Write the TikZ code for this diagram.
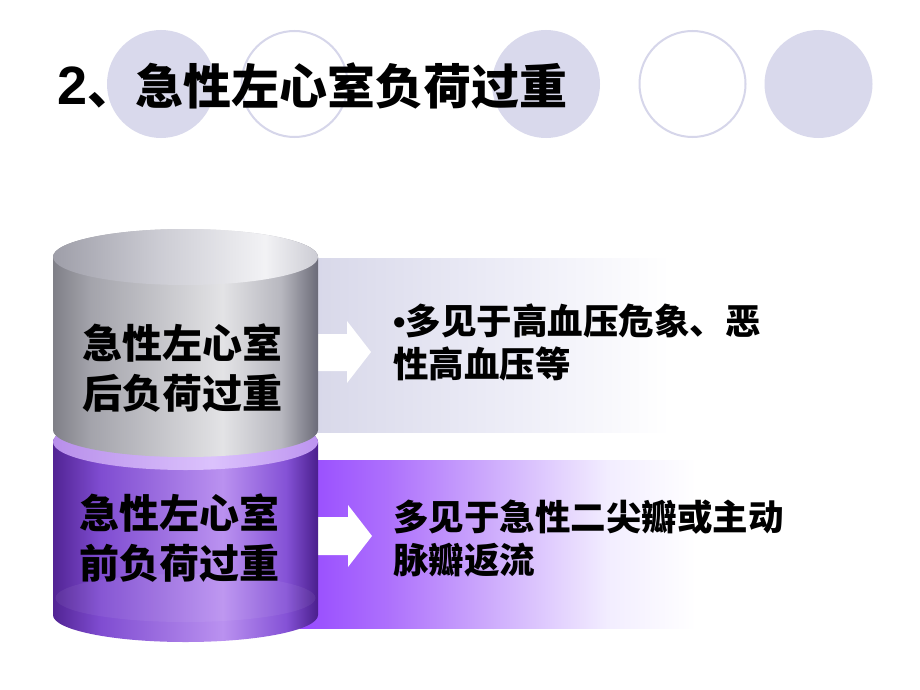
\documentclass[tikz,border=0pt]{standalone}
\usepackage{fontspec}
\newfontfamily\cjk{Noto Sans CJK SC}
\newfontfamily\lat{Liberation Sans}
\usetikzlibrary{shadings}
\definecolor{circfill}{RGB}{217,217,236}
\definecolor{circline}{RGB}{214,214,234}
\pgfdeclarehorizontalshading{graycyl}{100bp}{
 rgb(0bp)=(0.50,0.50,0.53); rgb(25bp)=(0.50,0.50,0.53); rgb(32bp)=(0.64,0.64,0.67);
 rgb(57bp)=(0.89,0.89,0.90); rgb(68bp)=(0.72,0.72,0.75); rgb(75bp)=(0.42,0.42,0.47); rgb(100bp)=(0.42,0.42,0.47)}
\pgfdeclarehorizontalshading{graytop}{100bp}{
 rgb(0bp)=(0.62,0.62,0.66); rgb(25bp)=(0.62,0.62,0.66); rgb(45bp)=(0.80,0.80,0.83);
 rgb(65bp)=(0.95,0.95,0.96); rgb(75bp)=(0.80,0.80,0.83); rgb(100bp)=(0.80,0.80,0.83)}
\pgfdeclarehorizontalshading{purpcyl}{100bp}{
 rgb(0bp)=(0.32,0.14,0.58); rgb(25bp)=(0.32,0.14,0.58); rgb(34bp)=(0.50,0.30,0.82);
 rgb(57bp)=(0.73,0.57,0.94); rgb(69bp)=(0.52,0.32,0.84); rgb(75bp)=(0.29,0.12,0.55); rgb(100bp)=(0.29,0.12,0.55)}
\pgfdeclarehorizontalshading{purptop}{100bp}{
 rgb(0bp)=(0.72,0.56,0.92); rgb(25bp)=(0.72,0.56,0.92); rgb(55bp)=(0.86,0.76,0.99);
 rgb(75bp)=(0.74,0.58,0.94); rgb(100bp)=(0.74,0.58,0.94)}
\pgfdeclarehorizontalshading{panelA}{100bp}{
 rgb(0bp)=(0.84,0.84,0.91); rgb(25bp)=(0.84,0.84,0.91); rgb(50bp)=(0.93,0.93,0.97);
 rgb(69bp)=(1,1,1); rgb(100bp)=(1,1,1)}
\pgfdeclarehorizontalshading{panelB}{100bp}{
 rgb(0bp)=(0.59,0.29,1.0); rgb(25bp)=(0.59,0.29,1.0); rgb(35bp)=(0.68,0.44,0.99);
 rgb(47bp)=(0.81,0.68,0.99); rgb(60bp)=(0.95,0.93,1); rgb(70bp)=(1,1,1); rgb(100bp)=(1,1,1)}
\tikzset{
  fullcirc/.style={fill=circfill, draw=none},
  opencirc/.style={fill=white, draw=circline, line width=2pt},
  cyltext/.style={font=\cjk\bfseries\fontsize{40}{50}\selectfont, align=center, inner sep=0pt, text=black},
  sidetext/.style={font=\cjk\bfseries\fontsize{35.5}{43}\selectfont, align=left, inner sep=0pt, anchor=west},
  wharrow/.style={fill=white, draw=none}
}
\begin{document}
\begin{tikzpicture}[x=1pt,y=-1pt]
\useasboundingbox (0,0) rectangle (920,690);
\fill[white] (0,0) rectangle (920,690);
% background circles
\path[fullcirc] (161,84) circle[radius=54];
\path[opencirc] (294.5,84) circle[radius=53];
\path[fullcirc] (546,84) circle[radius=54];
\path[opencirc] (692.5,84) circle[radius=53];
\path[fullcirc] (818.5,84) circle[radius=54];
% title
\node[anchor=west, inner sep=0pt] (title) at (57,86)
  {\lat\bfseries\fontsize{54}{60}\selectfont 2\cjk\bfseries\fontsize{48}{60}\selectfont 、急性左心室负荷过重};
% panels
\path[shading=panelA] (300,258) rectangle (720,432);
\path[shading=panelB] (300,460) rectangle (740,628);
% arrows
\path[wharrow] (318,334) -- (347,334) -- (347,321) -- (371,352) -- (347,383) -- (347,371) -- (318,371) -- cycle;
\path[wharrow] (318,517) -- (348,517) -- (348,505) -- (372,536) -- (348,567) -- (348,555) -- (318,555) -- cycle;
% purple cylinder
\path[shading=purpcyl] (53,442) -- (53,615) arc[start angle=180, end angle=0, x radius=132.5, y radius=27] -- (318,442) arc[start angle=0, end angle=-180, x radius=132.5, y radius=28] -- cycle;
\fill[white, opacity=0.06] (185.5,598) ellipse[x radius=130, y radius=24];
\path[shading=purptop] (185.5,442) ellipse[x radius=132.5, y radius=28];
% gray cylinder
\path[shading=graycyl] (53,257) -- (53,430) arc[start angle=180, end angle=0, x radius=132.5, y radius=27] -- (318,257) arc[start angle=0, end angle=-180, x radius=132.5, y radius=28] -- cycle;
\path[shading=graytop] (185.5,257) ellipse[x radius=132.5, y radius=28];
% cylinder texts
\node[cyltext] (upper) at (182,368) {急性左心室\\后负荷过重};
\node[cyltext] (lower) at (179,538.5) {急性左心室\\前负荷过重};
% side texts
\node[sidetext] (uppernote) at (393,342.5) {{\lat •}多见于高血压危象、恶\\性高血压等};
\node[sidetext] (lowernote) at (393,538.5) {多见于急性二尖瓣或主动\\脉瓣返流};
\end{tikzpicture}
\end{document}
